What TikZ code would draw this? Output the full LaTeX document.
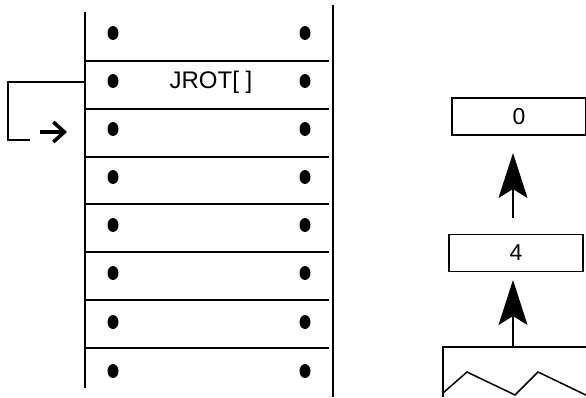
\documentclass[tikz,border=0pt]{standalone}
\usepackage{fontspec}
\setmainfont{Liberation Sans}
\usetikzlibrary{arrows.meta}
\begin{document}
\begin{tikzpicture}[x=1pt,y=-1pt,line width=1.8pt,
  valbox/.style={draw,line width=1.5pt,minimum width=134pt,minimum height=37pt,inner sep=0pt,font=\fontsize{23pt}{26pt}\selectfont},
  bigarrow/.style={line width=1.5pt,-{Stealth[length=45pt,width=29pt,inset=9pt]}},
  lbl/.style={font=\fontsize{24pt}{27pt}\selectfont,inner sep=0pt}]
\useasboundingbox (0,0) rectangle (586,397);
% stack frame
\coordinate (lt) at (85,12); \coordinate (lb) at (85,388);
\coordinate (rt) at (333,5); \coordinate (rb) at (333,397);
\draw (lt) -- (lb);
\draw (rt) -- (rb);
\foreach \i/\y in {1/61,2/109,3/157,4/204,5/252,6/300,7/348} {
  \coordinate (hl\i) at (86,\y); \coordinate (hr\i) at (329,\y);
  \draw (hl\i) -- (hr\i);
}
\foreach \i/\y in {0/33,1/81,2/129,3/177,4/225,5/273,6/322,7/371} {
  \fill (113,\y) ellipse (5.5pt and 7pt);
  \fill (305,\y) ellipse (5.5pt and 7pt);
}
\node[lbl] (jrot) at (211,82) {JROT[ ]};
% feedback bracket
\coordinate (fa) at (85,82);
\coordinate (fb) at (8,82);
\coordinate (fc) at (8,140);
\coordinate (fd) at (30,140);
\draw (fa) -- (fb) -- (fc) -- (fd);
\coordinate (ra) at (40,132); \coordinate (rbb) at (67,132);
\draw[line width=3.6pt,-{Straight Barb[length=11pt,width=20pt]}] (ra) -- (rbb);
% right stack
\node[valbox] (v0) at (519,116.5) {0};
\node[valbox] (v4) at (516,253) {4};
\coordinate (zt) at (513,347);
\coordinate (a1s) at (513,218);
\draw[bigarrow] (a1s) -- (513,153);
\draw[bigarrow] (zt) -- (513,280);
% zigzag frame
\draw[line width=1.5pt] (443,397) -- (443,347) -- (590,347);
\draw[line width=1.5pt] (443,393) -- (467,372) -- (515,395) -- (538,372) -- (590,397);
\end{tikzpicture}
\end{document}
